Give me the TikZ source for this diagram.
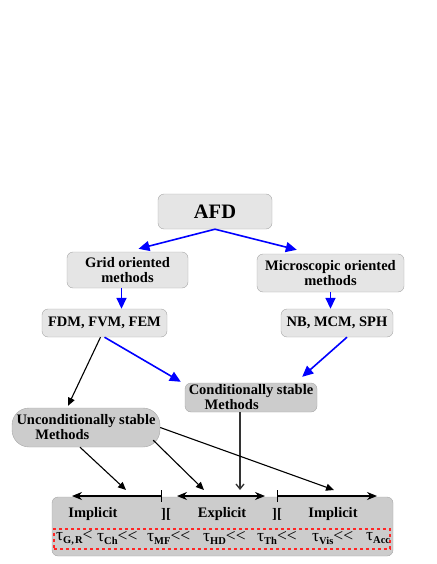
\documentclass[tikz,border=0pt]{standalone}
\usepackage{fontspec}
\setmainfont{Liberation Serif}
\usetikzlibrary{arrows.meta, positioning, shapes}

\begin{document}
\begin{tikzpicture}[x=1pt, y=-1pt, font=\fontsize{14.5}{15}\selectfont\bfseries,
    lightbox/.style={draw=gray!70, fill=gray!20, rounded corners=6pt, inner sep=1pt, align=center},
    darkbox/.style={draw=gray!70, fill=gray!40, rounded corners=6pt, inner sep=1pt, align=left},
    bluearrow/.style={draw=blue, line width=1.6pt, -{Triangle[length=11pt, width=10pt]}},
    blackarrow/.style={line width=1.1pt, -{Triangle[length=8pt, width=7pt]}},
    scalearrow/.style={line width=1.1pt},
    taulabel/.style={anchor=west, inner sep=0pt, font=\fontsize{17.5}{18}\selectfont\mdseries}]
  \useasboundingbox (0,0) rectangle (436,564);

  % method boxes
  \node[lightbox, minimum width=114pt, minimum height=35pt, font=\fontsize{20.5}{22}\selectfont\bfseries] (afd) at (215,211.5) {AFD};
  \node[lightbox, minimum width=121pt, minimum height=36pt] (grid) at (127.5,270) {Grid oriented\\methods};
  \node[lightbox, minimum width=147pt, minimum height=38pt] (micro) at (330.5,273) {Microscopic oriented\\methods};
  \node[lightbox, minimum width=125pt, minimum height=28pt] (fdm) at (104.5,323) {FDM, FVM, FEM};
  \node[lightbox, minimum width=112pt, minimum height=28pt] (nb) at (337,323) {NB, MCM, SPH};
  \node[darkbox, minimum width=132pt, minimum height=29pt] (cond) at (251,397.5) {Conditionally stable\\\hspace*{1.1em}Methods};
  \node[darkbox, rounded corners=17pt, minimum width=148pt, minimum height=39pt] (uncond) at (86,427.5) {Unconditionally stable\\\hspace*{1.3em}Methods};

  % time scale panel
  \node[darkbox, minimum width=341pt, minimum height=59pt] (panel) at (222.5,526.5) {};
  \node[draw=red!85, dashed, line width=1.1pt, inner sep=0pt, minimum width=336pt, minimum height=20pt] (tauframe) at (222,539) {};
  \coordinate (lefttip) at (72,496);
  \coordinate (tickA) at (162,496);
  \coordinate (midL) at (177,496);
  \coordinate (midR) at (265,496);
  \coordinate (tickB) at (277,496);
  \coordinate (righttip) at (377,496);
  \draw[scalearrow, {Bar[width=12pt]}-{Stealth[length=10pt, width=8pt]}] (tickA) -- (lefttip);
  \draw[scalearrow, {Stealth[length=10pt, width=8pt]}-{Stealth[length=10pt, width=8pt]}] (midL) -- (midR);
  \draw[scalearrow, {Bar[width=12pt]}-{Stealth[length=10pt, width=8pt]}] (tickB) -- (righttip);
  \node (imp1) at (93,514) {Implicit};
  \node (sep1) at (166,514) {][};
  \node (expl) at (222,514) {Explicit};
  \node (sep2) at (277,514) {][};
  \node (imp2) at (333,514) {Implicit};
  \foreach \x/\sub/\rel [count=\i] in {56/{G,\kern1pt R}/{<}, 97/Ch/{<{}<}, 147/MF/{<{}<}, 203/HD/{<{}<}, 257/Th/{<{}<}, 312/Vis/{<{}<}, 366/Acc/{}}
    \node[taulabel] (tau\i) at (\x,538) {τ\raisebox{-3.5pt}{\fontsize{10.5}{11}\selectfont\bfseries\sub}\rel};

  % connectors
  \coordinate (hitA) at (126,490);
  \coordinate (hitB) at (204,490);
  \coordinate (hitC) at (334,490);
  \coordinate (hitD) at (240,490);
  \draw[bluearrow] (afd.south) -- ([xshift=11pt, yshift=3pt]grid.north);
  \draw[bluearrow] (afd.south) -- ([xshift=40pt, yshift=4pt]micro.north west);
  \draw[bluearrow] ([xshift=-6pt]grid.south) -- ([xshift=-6pt]grid.south |- fdm.north);
  \draw[bluearrow] (micro.south) -- (micro.south |- nb.north);
  \draw[blackarrow] ([xshift=-4pt]fdm.south) -- ([xshift=-18pt, yshift=2pt]uncond.north);
  \draw[bluearrow] (fdm.south) -- ([xshift=-4pt, yshift=1pt]cond.north west);
  \draw[bluearrow] ([xshift=10pt]nb.south) -- ([xshift=-15pt, yshift=6pt]cond.north east);
  \draw[line width=1.3pt, draw=black!80, -{Straight Barb[length=5pt, width=8pt]}] ([xshift=-11pt]cond.south) -- (hitD);
  \draw[blackarrow] ([xshift=-6pt]uncond.south) -- (hitA);
  \draw[blackarrow] ([xshift=-7pt, yshift=7pt]uncond.south east) -- (hitB);
  \draw[blackarrow] (uncond.east) -- (hitC);
\end{tikzpicture}
\end{document}
